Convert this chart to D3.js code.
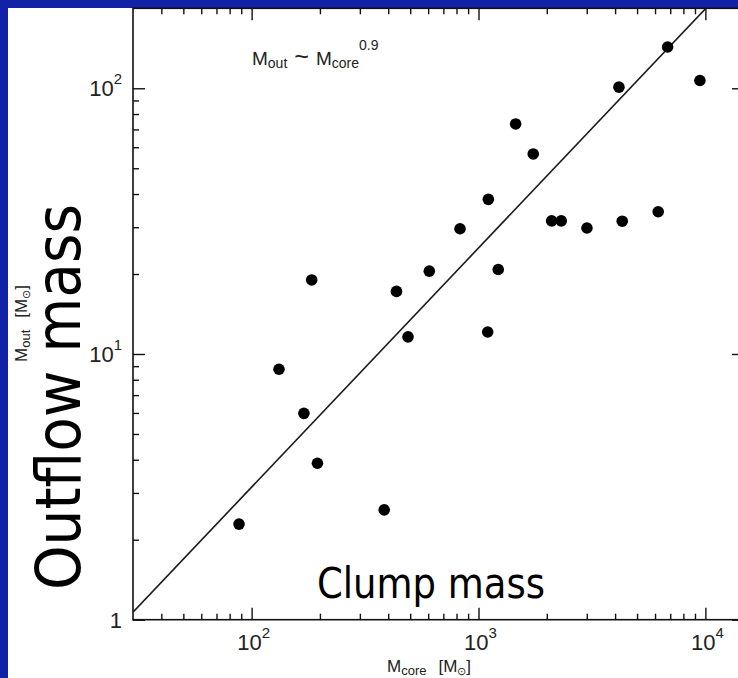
<!DOCTYPE html>
<html>
<head>
<meta charset="utf-8">
<script src="https://cdn.jsdelivr.net/npm/d3@7"></script>
<style>
  body { margin: 0; background: #1222a6; }
  svg { display: block; }
</style>
</head>
<body>
<script>
// clump (core) mass vs outflow mass, both in solar masses
const coreMass = [88, 132, 170, 184, 195, 384, 435, 489, 607, 829, 1098, 1105, 1222, 1458, 1743, 2101, 2316, 3006, 4159, 4300, 6195, 6817, 9458]
const outflowMass = [2.29, 8.76, 5.98, 19.0, 3.88, 2.59, 17.2, 11.6, 20.5, 29.6, 12.1, 38.2, 20.8, 73.4, 56.6, 31.7, 31.7, 29.8, 101, 31.6, 34.3, 143, 107]
const xMajor = [100, 1000, 10000]
const xExponents = ['2', '3', '4']
const yMajor = [1, 10, 100]
const yExponents = [null, '1', '2']
// fitted relation M_out = 0.05 * M_core^0.9
const fitCoef = 0.05
const fitSlope = 0.9

const W = 738
const H = 678
const plot = { left: 133, right: 744, top: 8.3, bottom: 619.7 }

const x = d3.scaleLog().domain([30, 14800]).range([plot.left, plot.right])
const y = d3.scaleLog().domain([1, 200]).range([plot.bottom, plot.top])

const minors = (lo, hi) => {
  const out = []
  for (let d = 1; d <= 10000; d *= 10) {
    for (let k = 2; k <= 9; k++) {
      const v = k * d
      if (v > lo && v < hi) out.push(v)
    }
  }
  return out
}
const xMinor = minors(30, 14800)
const yMinor = minors(1, 200)

const svg = d3.select('body').append('svg')
  .attr('width', W)
  .attr('height', H)

svg.append('rect')
  .attr('x', 8).attr('y', 8)
  .attr('width', W - 8).attr('height', H - 8)
  .attr('fill', '#fff')

svg.append('clipPath').attr('id', 'clip')
  .append('rect')
  .attr('x', plot.left).attr('y', plot.top)
  .attr('width', plot.right - plot.left).attr('height', plot.bottom - plot.top)

// ticks on all four sides, pointing inward
const addAxis = (axis, tx, ty) => {
  const g = svg.append('g').attr('transform', `translate(${tx},${ty})`).call(axis)
  g.select('.domain').remove()
  g.selectAll('line').attr('stroke', '#111').attr('stroke-width', 1.4)
  g.selectAll('text').remove()
}
addAxis(d3.axisBottom(x).tickValues(xMajor).tickSize(-12), 0, plot.bottom)
addAxis(d3.axisBottom(x).tickValues(xMinor).tickSize(-6), 0, plot.bottom)
addAxis(d3.axisTop(x).tickValues(xMajor).tickSize(-12), 0, plot.top)
addAxis(d3.axisTop(x).tickValues(xMinor).tickSize(-6), 0, plot.top)
addAxis(d3.axisLeft(y).tickValues(yMajor).tickSize(-12), plot.left, 0)
addAxis(d3.axisLeft(y).tickValues(yMinor).tickSize(-6), plot.left, 0)
addAxis(d3.axisRight(y).tickValues(yMajor).tickSize(-12), plot.right, 0)
addAxis(d3.axisRight(y).tickValues(yMinor).tickSize(-6), plot.right, 0)

svg.append('rect')
  .attr('x', plot.left).attr('y', plot.top)
  .attr('width', plot.right - plot.left).attr('height', plot.bottom - plot.top)
  .attr('fill', 'none')
  .attr('stroke', '#111')
  .attr('stroke-width', 1.6)

// fit line
const fitX = [30, 20000]
const lineFn = d3.line()
  .x(d => x(d))
  .y(d => y(fitCoef * Math.pow(d, fitSlope)))
svg.append('path')
  .attr('d', lineFn(fitX))
  .attr('clip-path', 'url(#clip)')
  .attr('fill', 'none')
  .attr('stroke', '#1a1a1a')
  .attr('stroke-width', 1.6)

// points
svg.append('g').selectAll('circle')
  .data(coreMass)
  .enter().append('circle')
  .attr('cx', d => x(d))
  .attr('cy', (d, i) => y(outflowMass[i]))
  .attr('r', 5.8)
  .attr('fill', '#000')

const small = 'Liberation Sans, Arial, Helvetica, sans-serif'
const big = '"DejaVu Sans Condensed", "DejaVu Sans", sans-serif'

// x tick labels
xMajor.forEach((v, i) => {
  const t = svg.append('text')
    .attr('x', x(v) + 2).attr('y', 650)
    .attr('text-anchor', 'middle')
    .attr('font-family', small).attr('font-size', 22).attr('fill', '#222')
  t.append('tspan').text('10')
  t.append('tspan').attr('dy', -12).attr('font-size', 15).text(xExponents[i])
})

// y tick labels
yMajor.forEach((v, i) => {
  const t = svg.append('text')
    .attr('x', 122).attr('y', y(v) + 8)
    .attr('text-anchor', 'end')
    .attr('font-family', small).attr('font-size', 22).attr('fill', '#222')
  if (yExponents[i] === null) {
    t.text('1')
  } else {
    t.append('tspan').text('10')
    t.append('tspan').attr('dy', -12).attr('font-size', 15).text(yExponents[i])
  }
})

// annotation
const note = svg.append('text')
  .attr('x', 252).attr('y', 65)
  .attr('font-family', small).attr('font-size', 19).attr('fill', '#222')
note.append('tspan').text('M')
note.append('tspan').attr('dy', 3).attr('font-size', 14).text('out')
note.append('tspan').attr('dy', -3).attr('dx', 7).attr('font-size', 25).text('~')
note.append('tspan').attr('dx', 7).text('M')
note.append('tspan').attr('dy', 3).attr('font-size', 14).text('core')
note.append('tspan').attr('dy', -18).attr('font-size', 14).text('0.9')

// small axis titles
const unitLabel = (sel, sub) => {
  sel.append('tspan').text('M')
  sel.append('tspan').attr('dy', 3).attr('font-size', 13).text(sub)
  sel.append('tspan').attr('dy', -3).attr('dx', 12).text('[M')
  sel.append('tspan').attr('dy', 3).attr('font-size', 11).text('⊙')
  sel.append('tspan').attr('dy', -3).text(']')
}
unitLabel(svg.append('text')
  .attr('x', 387).attr('y', 672)
  .attr('font-family', small).attr('font-size', 17).attr('fill', '#222'), 'core')
unitLabel(svg.append('text')
  .attr('transform', 'translate(27,362) rotate(-90)')
  .attr('font-family', small).attr('font-size', 17).attr('fill', '#222'), 'out')

// big overlay titles
svg.append('text')
  .attr('x', 317).attr('y', 598)
  .attr('font-family', big).attr('font-size', 42)
  .attr('textLength', 228).attr('lengthAdjust', 'spacingAndGlyphs')
  .attr('fill', '#000')
  .text('Clump mass')

svg.append('text')
  .attr('transform', 'translate(80,590) rotate(-90)')
  .attr('font-family', big).attr('font-size', 62)
  .attr('textLength', 386).attr('lengthAdjust', 'spacingAndGlyphs')
  .attr('fill', '#000')
  .text('Outflow mass')
</script>
</body>
</html>
